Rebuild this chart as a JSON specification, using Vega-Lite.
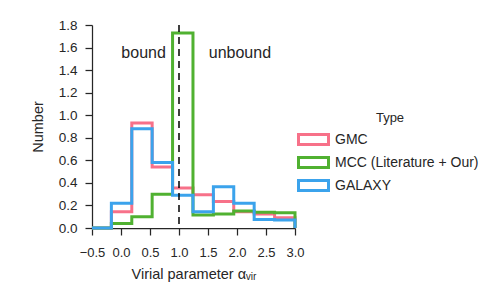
{
  "$schema": "https://vega.github.io/schema/vega-lite/v6.json",
  "width": 203,
  "height": 203,
  "autosize": "none",
  "padding": {"left": 92, "top": 25, "right": 196, "bottom": 71},
  "background": "white",
  "config": {
    "view": {"stroke": null},
    "font": "Liberation Sans",
    "axis": {
      "grid": false,
      "domainColor": "#262626",
      "domainWidth": 1.25,
      "tickColor": "#262626",
      "tickWidth": 1.25,
      "tickSize": 7,
      "labelColor": "#262626",
      "labelFontSize": 13.5,
      "labelFont": "Liberation Sans",
      "labelOverlap": false,
      "labelFlush": false,
      "titleFont": "Liberation Sans",
      "titleFontSize": 14.5,
      "titleFontWeight": "normal",
      "titleColor": "#262626"
    },
    "legend": {
      "titleFont": "Liberation Sans",
      "labelFont": "Liberation Sans"
    }
  },
  "datasets": {
    "hist": [
      {"Type": "GMC", "edge": -0.5, "value": 0},
      {"Type": "GMC", "edge": -0.166, "value": 0.145},
      {"Type": "GMC", "edge": 0.186, "value": 0.93},
      {"Type": "GMC", "edge": 0.537, "value": 0.54},
      {"Type": "GMC", "edge": 0.889, "value": 0.355},
      {"Type": "GMC", "edge": 1.241, "value": 0.295},
      {"Type": "GMC", "edge": 1.593, "value": 0.235},
      {"Type": "GMC", "edge": 1.944, "value": 0.145},
      {"Type": "GMC", "edge": 2.296, "value": 0.125},
      {"Type": "GMC", "edge": 2.648, "value": 0.09},
      {"Type": "GMC", "edge": 3.0, "value": 0},
      {"Type": "MCC (Literature + Our)", "edge": -0.5, "value": 0},
      {"Type": "MCC (Literature + Our)", "edge": -0.166, "value": 0.04},
      {"Type": "MCC (Literature + Our)", "edge": 0.186, "value": 0.10},
      {"Type": "MCC (Literature + Our)", "edge": 0.537, "value": 0.30},
      {"Type": "MCC (Literature + Our)", "edge": 0.889, "value": 1.73},
      {"Type": "MCC (Literature + Our)", "edge": 1.241, "value": 0.115},
      {"Type": "MCC (Literature + Our)", "edge": 1.593, "value": 0.125},
      {"Type": "MCC (Literature + Our)", "edge": 1.944, "value": 0.15},
      {"Type": "MCC (Literature + Our)", "edge": 2.296, "value": 0.14},
      {"Type": "MCC (Literature + Our)", "edge": 2.648, "value": 0.135},
      {"Type": "MCC (Literature + Our)", "edge": 3.0, "value": 0},
      {"Type": "GALAXY", "edge": -0.5, "value": 0},
      {"Type": "GALAXY", "edge": -0.166, "value": 0.22},
      {"Type": "GALAXY", "edge": 0.186, "value": 0.88},
      {"Type": "GALAXY", "edge": 0.537, "value": 0.58},
      {"Type": "GALAXY", "edge": 0.889, "value": 0.29},
      {"Type": "GALAXY", "edge": 1.241, "value": 0.145},
      {"Type": "GALAXY", "edge": 1.593, "value": 0.365},
      {"Type": "GALAXY", "edge": 1.944, "value": 0.22},
      {"Type": "GALAXY", "edge": 2.296, "value": 0.075},
      {"Type": "GALAXY", "edge": 2.648, "value": 0.07},
      {"Type": "GALAXY", "edge": 3.0, "value": 0}
    ],
    "labels": [
      {"x": 0.39, "y": 1.55, "text": "bound"},
      {"x": 2.05, "y": 1.55, "text": "unbound"}
    ],
    "rule": [{"x": 1.0}]
  },
  "encoding": {
    "x": {
      "field": "edge",
      "type": "quantitative",
      "scale": {"domain": [-0.5, 3.0], "nice": false, "zero": false},
      "axis": {
        "title": "Virial parameter αᵥᵢᵣ",
        "values": [-0.5, 0, 0.5, 1, 1.5, 2, 2.5, 3],
        "format": ".1f",
        "labelFontSize": 13,
        "labelPadding": 11,
        "titlePadding": 8
      }
    },
    "y": {
      "field": "value",
      "type": "quantitative",
      "scale": {"domain": [0, 1.8], "nice": false},
      "axis": {
        "title": "Number",
        "values": [0, 0.2, 0.4, 0.6, 0.8, 1.0, 1.2, 1.4, 1.6, 1.8],
        "format": ".1f",
        "labelPadding": 8,
        "titlePadding": 13
      }
    }
  },
  "layer": [
    {
      "data": {"name": "hist"},
      "transform": [{"filter": "datum.Type === 'GMC'"}],
      "mark": {"type": "line", "interpolate": "step-after", "strokeWidth": 3},
      "encoding": {
        "color": {
          "field": "Type",
          "type": "nominal",
          "scale": {
            "domain": ["GMC", "MCC (Literature + Our)", "GALAXY"],
            "range": ["#f77189", "#50b131", "#3ba3ec"]
          },
          "legend": {
            "orient": "none",
            "legendX": 210,
            "legendY": 87,
            "title": "Type",
            "titleFontSize": 13,
            "titleFontWeight": "normal",
            "titleColor": "#262626",
            "titleAnchor": "middle",
            "titlePadding": 3,
            "labelFontSize": 14,
            "labelColor": "#262626",
            "labelLimit": 300,
            "labelOffset": 10,
            "rowPadding": -2.5,
            "symbolType": "M-1.5,-0.5H1.5V0.5H-1.5Z",
            "symbolSize": 400,
            "symbolStrokeWidth": 3,
            "symbolFillColor": "white"
          }
        }
      }
    },
    {
      "data": {"name": "hist"},
      "transform": [{"filter": "datum.Type === 'MCC (Literature + Our)'"}],
      "mark": {"type": "line", "interpolate": "step-after", "strokeWidth": 3},
      "encoding": {"color": {"field": "Type", "type": "nominal"}}
    },
    {
      "data": {"name": "hist"},
      "transform": [{"filter": "datum.Type === 'GALAXY'"}],
      "mark": {"type": "line", "interpolate": "step-after", "strokeWidth": 3},
      "encoding": {"color": {"field": "Type", "type": "nominal"}}
    },
    {
      "data": {"name": "rule"},
      "mark": {"type": "rule", "color": "black", "strokeDash": [7, 5], "strokeWidth": 1.5},
      "encoding": {"x": {"field": "x", "type": "quantitative"}, "y": null}
    },
    {
      "data": {"name": "labels"},
      "mark": {"type": "text", "fontSize": 16, "color": "#262626", "font": "Liberation Sans"},
      "encoding": {
        "x": {"field": "x", "type": "quantitative"},
        "y": {"field": "y", "type": "quantitative"},
        "text": {"field": "text"}
      }
    }
  ]
}
